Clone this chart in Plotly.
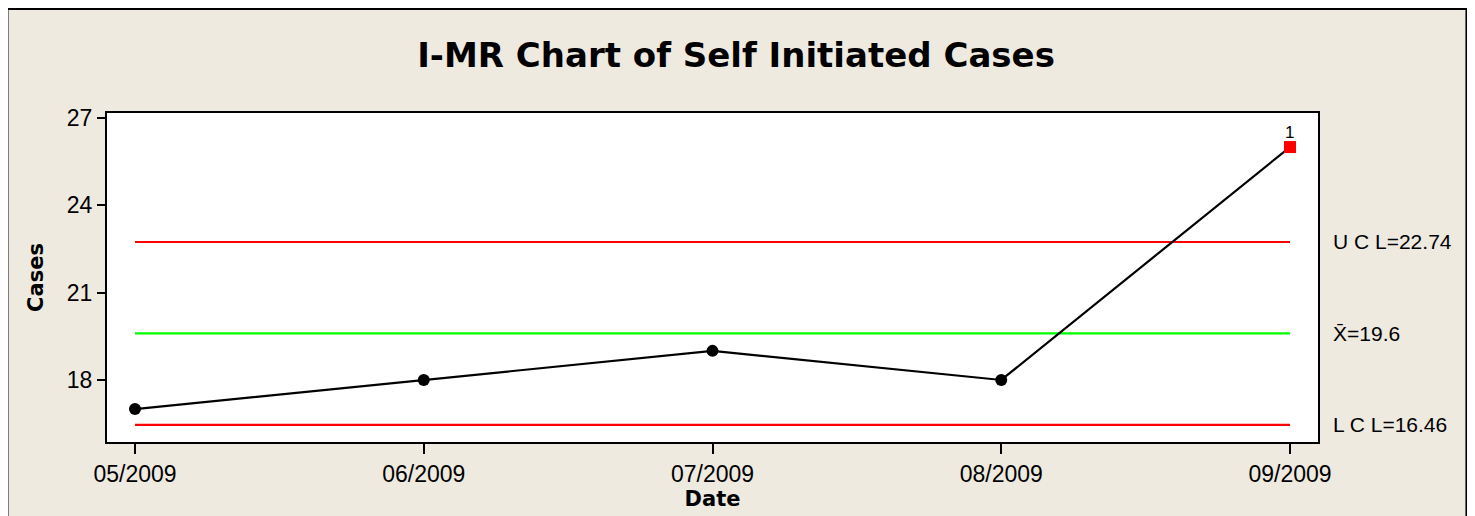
import plotly.graph_objects as go

dates = ["05/2009", "06/2009", "07/2009", "08/2009", "09/2009"]
cases = [17, 18, 19, 18, 26]
ucl = 22.74
center = 19.6
lcl = 16.46
out_of_control = [False, False, False, False, True]
flag_labels = ["", "", "", "", "1"]
y_ticks = [18, 21, 24, 27]

BEIGE = "#EEEAE0"
FONT = "Liberation Sans"
BFONT = "DejaVu Sans"

fig = go.Figure()

# control limits
for val, col in [(ucl, "#FF0000"), (center, "#00FF00"), (lcl, "#FF0000")]:
    fig.add_trace(go.Scatter(x=dates, y=[val] * len(dates), mode="lines",
                             line=dict(color=col, width=2.2), hoverinfo="skip"))

# data line
fig.add_trace(go.Scatter(x=dates, y=cases, mode="lines",
                         line=dict(color="black", width=2.2)))
# in-control points
ix = [d for d, o in zip(dates, out_of_control) if not o]
iy = [c for c, o in zip(cases, out_of_control) if not o]
fig.add_trace(go.Scatter(x=ix, y=iy, mode="markers",
                         marker=dict(color="black", size=12, symbol="circle")))
# out-of-control points
ox = [d for d, o in zip(dates, out_of_control) if o]
oy = [c for c, o in zip(cases, out_of_control) if o]
fig.add_trace(go.Scatter(x=ox, y=oy, mode="markers",
                         marker=dict(color="#FF0000", size=12, symbol="square")))
for d, c, t, o in zip(dates, cases, flag_labels, out_of_control):
    if o:
        fig.add_annotation(x=d, y=c, text=t, showarrow=False, yanchor="bottom",
                           yshift=3, font=dict(family=FONT, size=17, color="black"))

# frame and plot area background
fig.add_shape(type="rect", xref="paper", yref="paper",
              x0=-0.0826, x1=1.1230, y0=-0.3, y1=1.3175,
              fillcolor=BEIGE, line=dict(color="black", width=3), layer="below")
fig.add_shape(type="rect", xref="x domain", yref="y domain",
              x0=0, x1=1, y0=0, y1=1, fillcolor="white",
              line=dict(width=0), layer="below")

label_font = dict(family=FONT, size=21, color="black")
for txt, val in [("U C L=22.74", ucl), ("X̄=19.6", center), ("L C L=16.46", lcl)]:
    fig.add_annotation(xref="paper", yref="y", x=1.0107, y=val, text=txt,
                       showarrow=False, xanchor="left", yanchor="middle",
                       font=label_font)

fig.update_layout(
    width=1475, height=516,
    margin=dict(l=99, r=165, t=105, b=82),
    paper_bgcolor="white", plot_bgcolor="rgba(0,0,0,0)",
    showlegend=False,
    title=dict(text="<b>I-MR Chart of Self Initiated Cases</b>",
               x=0.4936, xanchor="center", y=0.909, yanchor="middle",
               font=dict(family=BFONT, size=34, color="black")),
)
fig.update_xaxes(type="category", range=[-0.097, 4.097],
                 showline=True, mirror=True, linecolor="black", linewidth=2,
                 ticks="outside", ticklen=10, tickwidth=2, tickcolor="black",
                 showgrid=False, zeroline=False,
                 tickfont=dict(family=FONT, size=23, color="black"),
                 title=dict(text="<b>Date</b>", standoff=0,
                            font=dict(family=BFONT, size=21, color="black")))
fig.update_yaxes(range=[15.87, 27.17], tickvals=y_ticks,
                 showline=True, mirror=True, linecolor="black", linewidth=2,
                 ticks="outside", ticklen=8, tickwidth=2, tickcolor="black",
                 showgrid=False, zeroline=False,
                 tickfont=dict(family=FONT, size=23, color="black"),
                 title=dict(text="<b>Cases</b>", standoff=17,
                            font=dict(family=BFONT, size=21, color="black")))

fig.write_html("out.html")
